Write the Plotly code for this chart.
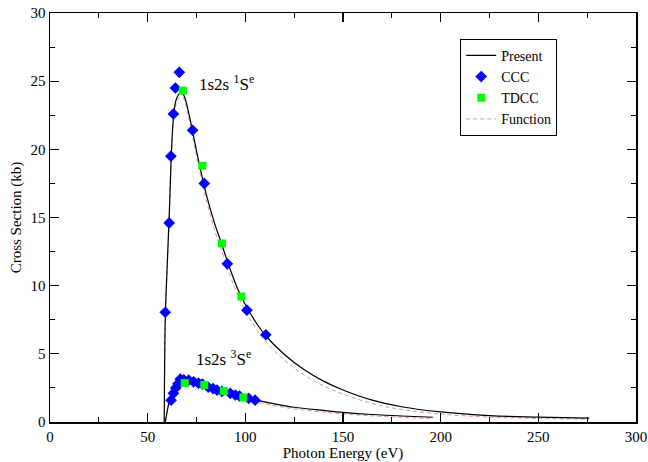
import plotly.graph_objects as go

# Present (singlet 1s2s 1Se)
singlet_x = [58.5, 59.0, 60.0, 61.0, 62.0, 63.0, 64.0, 65.0, 66.0, 67.0, 68.0, 69.0, 70.0,
             72.0, 74.0, 76.0, 78.0, 80.0, 84.0, 88.0, 92.0, 96.0, 100.0, 105.0, 110.0,
             120.0, 130.0, 140.0, 150.0, 165.0, 180.0, 200.0, 225.0, 250.0, 276.0]
singlet_y = [0.0, 7.5, 11.5, 15.0, 19.2, 22.0, 23.3, 23.8, 24.05, 24.15, 24.1, 23.8, 23.3,
             22.0, 20.6, 19.2, 17.9, 16.7, 14.7, 13.0, 11.3, 9.8, 8.6, 7.4, 6.4,
             4.95, 3.85, 3.0, 2.35, 1.6, 1.12, 0.74, 0.47, 0.36, 0.28]
# Function fit (singlet)
singlet_fit_y = [0.0, 7.3, 11.3, 14.8, 19.0, 21.8, 23.0, 23.5, 23.75, 23.85, 23.8, 23.5, 23.0,
                 21.6, 20.2, 18.8, 17.5, 16.3, 14.2, 12.5, 10.8, 9.35, 8.15, 6.95, 5.95,
                 4.55, 3.45, 2.65, 2.05, 1.35, 0.92, 0.58, 0.36, 0.26, 0.2]

# Present (triplet 1s2s 3Se)
triplet_x = [59.0, 60.0, 61.0, 62.0, 63.0, 64.0, 65.0, 66.0, 67.0, 68.0, 70.0, 72.0, 75.0,
             80.0, 85.0, 90.0, 95.0, 100.0, 105.0, 115.0, 125.0, 140.0, 150.0, 165.0, 180.0, 196.0]
triplet_y = [0.0, 0.8, 1.5, 2.0, 2.4, 2.7, 2.9, 3.0, 3.05, 3.05, 3.0, 2.95, 2.85,
             2.62, 2.38, 2.15, 1.95, 1.78, 1.62, 1.33, 1.08, 0.85, 0.71, 0.55, 0.44, 0.35]
triplet_fit_y = [0.0, 0.75, 1.4, 1.9, 2.3, 2.6, 2.8, 2.9, 2.95, 2.95, 2.9, 2.83, 2.72,
                 2.5, 2.25, 2.02, 1.82, 1.64, 1.48, 1.2, 0.96, 0.73, 0.6, 0.45, 0.34, 0.26]

# CCC
ccc_x = [59.0, 61.0, 61.9, 63.2, 64.2, 66.2, 73.0, 79.0, 90.8, 100.8, 110.5,
         62.0, 63.2, 64.4, 65.5, 66.7, 68.5, 71.0, 73.5, 76.0, 78.0, 81.0, 83.5, 85.5,
         88.0, 92.3, 94.9, 97.0, 101.7, 105.0]
ccc_y = [8.05, 14.6, 19.5, 22.6, 24.5, 25.65, 21.4, 17.5, 11.6, 8.2, 6.4,
         1.6, 2.1, 2.5, 2.8, 3.15, 3.1, 3.07, 2.95, 2.85, 2.78, 2.55, 2.45, 2.34,
         2.25, 2.1, 1.98, 1.9, 1.73, 1.6]

# TDCC
tdcc_x = [68.0, 78.0, 88.0, 98.0, 69.0, 79.0, 89.0, 99.0]
tdcc_y = [24.3, 18.8, 13.1, 9.2, 2.85, 2.72, 2.27, 1.8]

x_ticks = [0, 50, 100, 150, 200, 250, 300]
y_ticks = [0, 5, 10, 15, 20, 25, 30]

serif = "Liberation Serif, Times New Roman, serif"
fit_color = "#d09a9a"

fig = go.Figure()
fig.add_trace(go.Scatter(x=singlet_x, y=singlet_fit_y, mode="lines", name="Function",
                         line=dict(color=fit_color, width=1, dash="4px,3px", shape="spline"),
                         showlegend=False, legendrank=4))
fig.add_trace(go.Scatter(x=triplet_x, y=triplet_fit_y, mode="lines", name="Function",
                         line=dict(color=fit_color, width=1, dash="4px,3px", shape="spline"),
                         showlegend=True, legendrank=4))
fig.add_trace(go.Scatter(x=singlet_x, y=singlet_y, mode="lines", name="Present",
                         line=dict(color="black", width=1.2, shape="spline"),
                         showlegend=True, legendrank=1))
fig.add_trace(go.Scatter(x=triplet_x, y=triplet_y, mode="lines", name="Present",
                         line=dict(color="black", width=1.2, shape="spline"),
                         showlegend=False, legendrank=1))
fig.add_trace(go.Scatter(x=ccc_x, y=ccc_y, mode="markers", name="CCC",
                         marker=dict(symbol="diamond", color="#0000ff", size=9),
                         legendrank=2))
fig.add_trace(go.Scatter(x=tdcc_x, y=tdcc_y, mode="markers", name="TDCC",
                         marker=dict(symbol="square", color="#00ff00", size=8),
                         legendrank=3))

fig.add_annotation(x=75.5, y=24.9, text="1s2s <sup>1</sup>S<sup>e</sup>", showarrow=False,
                   xanchor="left", yanchor="middle", font=dict(family=serif, size=17, color="black"))
fig.add_annotation(x=73.5, y=4.7, text="1s2s <sup>3</sup>S<sup>e</sup>", showarrow=False,
                   xanchor="left", yanchor="middle", font=dict(family=serif, size=17, color="black"))

axis_common = dict(showline=True, linecolor="black", linewidth=1.5, mirror="allticks",
                   ticks="inside", ticklen=9, tickwidth=1.2, tickcolor="black",
                   showgrid=False, zeroline=False, automargin=False,
                   ticklabeloverflow="allow",
                   tickfont=dict(family=serif, size=15, color="black"))

fig.update_xaxes(range=[0, 300], tickvals=x_ticks, ticktext=[str(v) for v in x_ticks],
                 title=dict(text="Photon Energy (eV)", font=dict(family=serif, size=15, color="black"),
                            standoff=0),
                 minor=dict(ticks="inside", ticklen=5, dtick=25, tick0=0, tickcolor="black", tickwidth=1),
                 **axis_common)
fig.update_yaxes(range=[0, 30], tickvals=y_ticks, ticktext=[str(v) for v in y_ticks],
                 title=dict(text="Cross Section (kb)", font=dict(family=serif, size=15, color="black"),
                            standoff=5),
                 minor=dict(ticks="inside", ticklen=5, dtick=2.5, tick0=0, tickcolor="black", tickwidth=1),
                 **axis_common)

fig.update_layout(
    width=648, height=462,
    margin=dict(l=50, r=12, t=13, b=40),
    paper_bgcolor="white", plot_bgcolor="white",
    legend=dict(x=0.70, y=0.937, xanchor="left", yanchor="top",
                bordercolor="black", borderwidth=1, bgcolor="white",
                font=dict(family=serif, size=14, color="black"),
                tracegroupgap=0, itemwidth=30),
    showlegend=True,
)

# remove the default 8px page margin so the figure fills the 648x462 window exactly
fig.write_html("out.html",
               config={"displayModeBar": False, "staticPlot": True},
               post_script="document.body.style.margin='0';document.body.style.overflow='hidden';")
